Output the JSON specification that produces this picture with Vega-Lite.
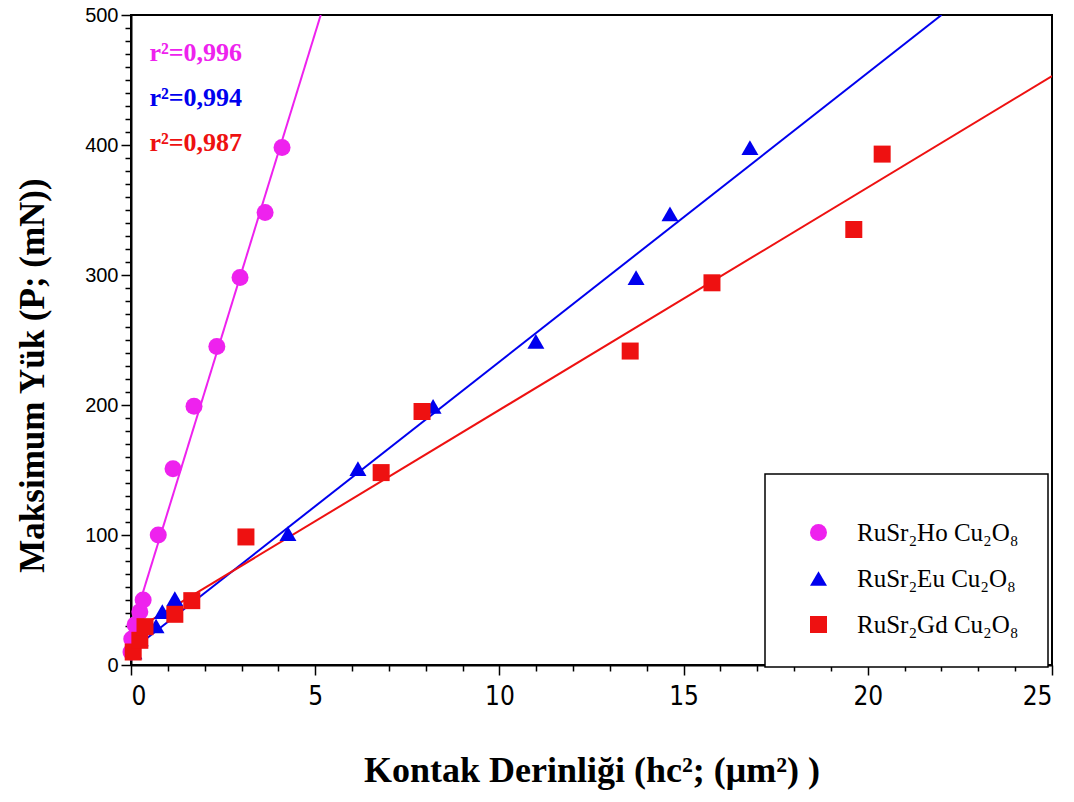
{
  "$schema": "https://vega.github.io/schema/vega-lite/v6.json",
  "autosize": {"type": "none"},
  "padding": {"left": 131, "top": 15, "right": 22, "bottom": 137},
  "width": 921,
  "height": 650,
  "background": "white",
  "config": {
    "view": {"stroke": "black", "strokeWidth": 2},
    "axis": {"domainColor": "black", "domainWidth": 2, "tickColor": "black", "tickWidth": 1.5, "labelColor": "black", "grid": false, "titleColor": "black"},
    "legend": {
      "orient": "none", "legendX": 634, "legendY": 459,
      "fillColor": "white", "strokeColor": "black", "strokeWidth": 1.5,
      "padding": 29, "symbolOffset": 12, "labelOffset": 26, "rowPadding": 20,
      "symbolSize": 289, "symbolStrokeWidth": 0,
      "labelFont": "Liberation Serif", "labelFontSize": 25, "labelColor": "black", "labelLimit": 400,
      "titleFontSize": 12, "titlePadding": 5
    }
  },
  "datasets": {
    "points": [
      {"series": "RuSr₂Ho Cu₂O₈", "x": 0.0, "y": 10},
      {"series": "RuSr₂Ho Cu₂O₈", "x": 0.02, "y": 20},
      {"series": "RuSr₂Ho Cu₂O₈", "x": 0.11, "y": 31},
      {"series": "RuSr₂Ho Cu₂O₈", "x": 0.24, "y": 41},
      {"series": "RuSr₂Ho Cu₂O₈", "x": 0.33, "y": 50},
      {"series": "RuSr₂Ho Cu₂O₈", "x": 0.74, "y": 100},
      {"series": "RuSr₂Ho Cu₂O₈", "x": 1.14, "y": 151},
      {"series": "RuSr₂Ho Cu₂O₈", "x": 1.71, "y": 199},
      {"series": "RuSr₂Ho Cu₂O₈", "x": 2.33, "y": 245},
      {"series": "RuSr₂Ho Cu₂O₈", "x": 2.96, "y": 298},
      {"series": "RuSr₂Ho Cu₂O₈", "x": 3.64, "y": 348},
      {"series": "RuSr₂Ho Cu₂O₈", "x": 4.10, "y": 398},
      {"series": "RuSr₂Eu Cu₂O₈", "x": 0.08, "y": 10},
      {"series": "RuSr₂Eu Cu₂O₈", "x": 0.25, "y": 20},
      {"series": "RuSr₂Eu Cu₂O₈", "x": 0.68, "y": 30},
      {"series": "RuSr₂Eu Cu₂O₈", "x": 0.85, "y": 41},
      {"series": "RuSr₂Eu Cu₂O₈", "x": 1.19, "y": 51},
      {"series": "RuSr₂Eu Cu₂O₈", "x": 4.26, "y": 101},
      {"series": "RuSr₂Eu Cu₂O₈", "x": 6.16, "y": 151},
      {"series": "RuSr₂Eu Cu₂O₈", "x": 8.20, "y": 199},
      {"series": "RuSr₂Eu Cu₂O₈", "x": 10.99, "y": 249},
      {"series": "RuSr₂Eu Cu₂O₈", "x": 13.71, "y": 298},
      {"series": "RuSr₂Eu Cu₂O₈", "x": 14.63, "y": 347},
      {"series": "RuSr₂Eu Cu₂O₈", "x": 16.80, "y": 398},
      {"series": "RuSr₂Gd Cu₂O₈", "x": 0.06, "y": 10},
      {"series": "RuSr₂Gd Cu₂O₈", "x": 0.24, "y": 19},
      {"series": "RuSr₂Gd Cu₂O₈", "x": 0.38, "y": 29.5},
      {"series": "RuSr₂Gd Cu₂O₈", "x": 1.19, "y": 39},
      {"series": "RuSr₂Gd Cu₂O₈", "x": 1.65, "y": 49.5},
      {"series": "RuSr₂Gd Cu₂O₈", "x": 3.12, "y": 98.5},
      {"series": "RuSr₂Gd Cu₂O₈", "x": 6.79, "y": 148},
      {"series": "RuSr₂Gd Cu₂O₈", "x": 7.90, "y": 195},
      {"series": "RuSr₂Gd Cu₂O₈", "x": 13.55, "y": 241.5},
      {"series": "RuSr₂Gd Cu₂O₈", "x": 15.77, "y": 294},
      {"series": "RuSr₂Gd Cu₂O₈", "x": 19.62, "y": 335},
      {"series": "RuSr₂Gd Cu₂O₈", "x": 20.39, "y": 393}
    ],
    "fits": [
      {"series": "RuSr₂Ho Cu₂O₈", "x": 0.0, "y": 26},
      {"series": "RuSr₂Ho Cu₂O₈", "x": 5.15, "y": 500},
      {"series": "RuSr₂Eu Cu₂O₈", "x": 0.0, "y": 11},
      {"series": "RuSr₂Eu Cu₂O₈", "x": 22.0, "y": 500},
      {"series": "RuSr₂Gd Cu₂O₈", "x": 0.0, "y": 25},
      {"series": "RuSr₂Gd Cu₂O₈", "x": 25.0, "y": 453}
    ],
    "notes": [
      {"series": "RuSr₂Ho Cu₂O₈", "text": "r²=0,996", "x": 0.5, "y": 464.6},
      {"series": "RuSr₂Eu Cu₂O₈", "text": "r²=0,994", "x": 0.5, "y": 430},
      {"series": "RuSr₂Gd Cu₂O₈", "text": "r²=0,987", "x": 0.5, "y": 395.6}
    ]
  },
  "encoding": {
    "x": {
      "field": "x", "type": "quantitative",
      "scale": {"domain": [0, 25], "nice": false, "zero": false},
      "axis": {
        "title": "Kontak Derinliği (hc²; (μm²) )",
        "titleFont": "Liberation Serif", "titleFontSize": 36, "titleFontWeight": "bold", "titlePadding": 44,
        "values": [0,0.5,1,1.5,2,2.5,3,3.5,4,4.5,5,5.5,6,6.5,7,7.5,8,8.5,9,9.5,10,10.5,11,11.5,12,12.5,13,13.5,14,14.5,15,15.5,16,16.5,17,17.5,18,18.5,19,19.5,20,20.5,21,21.5,22,22.5,23,23.5,24,24.5,25],
        "format": "d",
        "labelExpr": "datum.value % 5 === 0 ? datum.label : ''",
        "labelOverlap": false,
        "labelFont": "DejaVu Sans Condensed, Liberation Sans Narrow, sans-serif", "labelFontSize": 26, "labelPadding": 8,
        "tickSize": {"condition": {"test": "datum.value % 5 === 0", "value": 10}, "value": 6}
      }
    },
    "y": {
      "field": "y", "type": "quantitative",
      "scale": {"domain": [0, 500], "nice": false},
      "axis": {
        "title": "Maksimum Yük (P; (mN))",
        "titleFont": "Liberation Serif", "titleFontSize": 35, "titleFontWeight": "bold", "titlePadding": 34,
        "titleY": 360,
        "values": [0,10,20,30,40,50,60,70,80,90,100,110,120,130,140,150,160,170,180,190,200,210,220,230,240,250,260,270,280,290,300,310,320,330,340,350,360,370,380,390,400,410,420,430,440,450,460,470,480,490,500],
        "format": "d",
        "labelExpr": "datum.value % 100 === 0 ? datum.label : ''",
        "labelOverlap": false,
        "labelFont": "Liberation Sans", "labelFontSize": 20, "labelPadding": 3,
        "tickSize": {"condition": {"test": "datum.value % 100 === 0", "value": 10}, "value": 6}
      }
    }
  },
  "layer": [
    {
      "data": {"name": "fits"},
      "mark": {"type": "line", "strokeWidth": 2, "clip": true},
      "encoding": {
        "color": {"field": "series", "type": "nominal", "title": " ",
          "scale": {"domain": ["RuSr₂Ho Cu₂O₈", "RuSr₂Eu Cu₂O₈", "RuSr₂Gd Cu₂O₈"], "range": ["#EE22EE", "#0000EE", "#EE1111"]}}
      }
    },
    {
      "data": {"name": "points"},
      "mark": {"type": "point", "filled": true, "size": 289, "opacity": 1},
      "encoding": {
        "color": {"field": "series", "type": "nominal", "title": " "},
        "shape": {"field": "series", "type": "nominal", "title": " ",
          "scale": {"domain": ["RuSr₂Ho Cu₂O₈", "RuSr₂Eu Cu₂O₈", "RuSr₂Gd Cu₂O₈"], "range": ["circle", "triangle-up", "square"]}}
      }
    },
    {
      "data": {"name": "notes"},
      "mark": {"type": "text", "align": "left", "baseline": "alphabetic", "font": "Liberation Serif", "fontWeight": "bold", "fontSize": 26},
      "encoding": {
        "text": {"field": "text"},
        "color": {"field": "series", "type": "nominal", "title": " "}
      }
    }
  ]
}
